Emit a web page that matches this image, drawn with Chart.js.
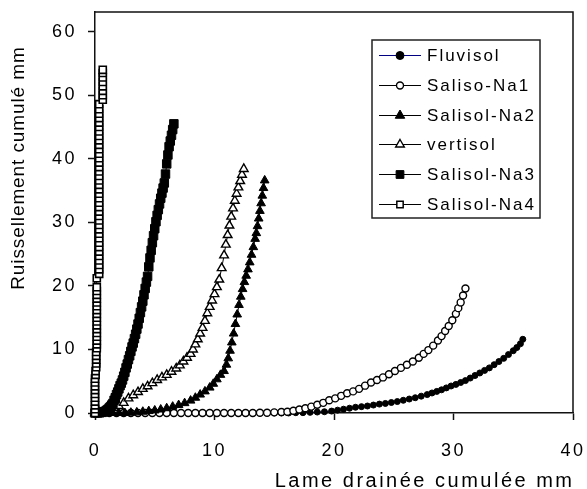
<!DOCTYPE html>
<html><head><meta charset="utf-8">
<script src="https://cdn.jsdelivr.net/npm/chart.js@4/dist/chart.umd.min.js"></script>
<style>html,body{margin:0;padding:0;background:#fff;}#wrap{position:relative;width:587px;height:489px;}</style>
</head><body><div id="wrap"><canvas id="c"></canvas></div>
<script>
const seriesNames = ['Fluvisol', 'Saliso-Na1', 'Salisol-Na2', 'vertisol', 'Salisol-Na3', 'Salisol-Na4'];

const fluvisolX = [0,0.6,1.2,1.8,2.4,3,3.6,4.2,4.8,5.4,6,6.6,7.2,7.8,8.4,9,9.6,10.2,10.8,11.4,12,12.6,13.2,13.8,14.4,15,15.6,16.2,16.8,17.4,18,18.6,19.2,19.8,20.3,20.8,21.3,21.8,22.3,22.8,23.3,23.8,24.3,24.8,25.3,25.8,26.3,26.8,27.3,27.8,28.2,28.6,29,29.4,29.8,30.2,30.6,31,31.4,31.8,32.2,32.6,33,33.4,33.8,34.2,34.6,35,35.3,35.6,35.8];
const fluvisolY = [0,0,0,0,0,0,0,0,0,0,0,0,0,0,0,0,0,0,0,0,0,0,0,0,0,0,0,0,0.05,0.05,0.1,0.15,0.2,0.3,0.45,0.6,0.75,0.9,1.0,1.1,1.25,1.4,1.5,1.65,1.8,2.0,2.2,2.4,2.65,2.9,3.15,3.4,3.65,3.95,4.25,4.5,4.8,5.1,5.5,5.9,6.3,6.7,7.1,7.6,8.1,8.6,9.2,9.8,10.3,10.9,11.6];

const na1X = [0,0.6,1.2,1.8,2.4,3,3.6,4.2,4.8,5.4,6,6.6,7.2,7.8,8.4,9,9.6,10.2,10.8,11.4,12,12.6,13.2,13.8,14.4,15,15.6,16.1,16.6,17.1,17.6,18.1,18.6,19.1,19.6,20.1,20.6,21.1,21.6,22.1,22.6,23.1,23.6,24.1,24.6,25.1,25.6,26.1,26.6,27.1,27.5,27.9,28.3,28.7,29.0,29.3,29.6,29.9,30.2,30.4,30.6,30.8,31.0];
const na1Y = [0,0,0,0,0,0,0,0,0,0,0,0,0,0,0,0,0,0,0,0,0,0,0,0.05,0.05,0.1,0.15,0.2,0.35,0.55,0.75,1.0,1.3,1.6,2.0,2.3,2.7,3.1,3.4,3.8,4.3,4.8,5.2,5.6,6.1,6.6,7.1,7.6,8.1,8.7,9.3,9.9,10.6,11.4,12.1,12.9,13.7,14.6,15.6,16.5,17.4,18.5,19.6];

const na2X = [0,0.5,1.0,1.5,2.0,2.5,3.0,3.5,4.0,4.5,5.0,5.5,6.0,6.5,7.0,7.5,8.0,8.4,8.8,9.2,9.6,9.9,10.2,10.5,10.8,11.0,11.15,11.3,11.45,11.6,11.75,11.9,12.05,12.2,12.35,12.5,12.65,12.8,12.95,13.1,13.25,13.4,13.5,13.6,13.7,13.8,13.9,14.0,14.1,14.2];
const na2Y = [0,0,0,0,0,0,0.05,0.1,0.2,0.3,0.4,0.55,0.75,1.0,1.25,1.55,1.95,2.4,2.9,3.4,4.0,4.6,5.3,6.0,6.6,7.6,8.6,9.8,11.1,12.5,14.0,15.5,17.0,18.3,19.5,20.6,21.6,22.6,23.7,24.9,26.1,27.4,28.3,29.4,30.6,31.8,33.0,34.2,35.4,36.6];

const vertisolX = [0,0.4,0.8,1.2,1.6,2.0,2.4,2.8,3.2,3.6,4.0,4.4,4.8,5.2,5.6,6.0,6.4,6.8,7.1,7.4,7.7,8.0,8.2,8.4,8.6,8.8,9.0,9.2,9.4,9.6,9.8,10.0,10.2,10.4,10.6,10.8,10.95,11.1,11.25,11.4,11.55,11.7,11.85,12.0,12.15,12.3,12.45];
const vertisolY = [0,0.1,0.3,0.5,0.8,1.1,1.6,2.3,2.8,3.3,3.8,4.2,4.7,5.2,5.6,6.0,6.5,7.0,7.5,8.1,8.7,9.3,10.0,10.8,11.6,12.5,13.4,14.5,15.7,16.7,17.7,18.7,19.8,21.0,22.8,24.8,26.5,28.0,29.5,30.9,32.2,33.4,34.5,35.5,36.5,37.5,38.4];

const na3X = [0,0.2,0.4,0.6,0.8,0.9,1.0,1.1,1.2,1.3,1.4,1.5,1.6,1.7,1.8,1.9,2.0,2.1,2.2,2.3,2.4,2.5,2.6,2.7,2.8,2.9,3.0,3.1,3.2,3.3,3.4,3.5,3.6,3.7,3.8,3.9,4.0,4.1,4.2,4.3,4.4,4.5,4.6,4.7,4.8,4.9,5.0,5.1,5.2,5.3,5.4,5.5,5.6,5.7,5.8,5.9,6.0,6.1,6.2,6.3,6.4,6.5,6.6];
const na3Y = [0,0,0.05,0.1,0.2,0.3,0.45,0.6,0.8,1.0,1.25,1.5,2.0,2.4,2.9,3.3,3.8,4.3,4.7,5.2,5.8,6.4,7.1,7.7,8.4,9.0,9.7,10.4,11.0,11.7,12.4,13.2,14.0,14.9,15.8,16.7,17.6,18.6,19.6,20.6,21.5,23.0,24.4,25.6,26.8,27.9,29.0,30.1,31.1,32.0,32.9,33.8,34.6,35.4,36.2,37.6,39.2,40.6,41.9,42.8,43.7,44.6,45.5];

const na4X = [0,0,0,0,0,0,0,0,0,0,0.05,0.05,0.1,0.1,0.1,0.1,0.1,0.15,0.15,0.15,0.15,0.15,0.15,0.15,0.15,0.15,0.15,0.15,0.15,0.15,0.15,0.15,0.15,0.15,0.15,0.35,0.35,0.35,0.35,0.35,0.35,0.35,0.35,0.35,0.35,0.35,0.35,0.35,0.35,0.35,0.35,0.35,0.35,0.35,0.35,0.35,0.35,0.35,0.35,0.35,0.35,0.35,0.35,0.35,0.35,0.35,0.35,0.35,0.35,0.35,0.35,0.35,0.35,0.35,0.65,0.65,0.65,0.65,0.65,0.65,0.65,0.65,0.65];
const na4Y = [0,0.6,1.2,1.8,2.4,3.0,3.6,4.2,4.8,5.4,6.0,6.6,7.2,7.8,8.4,9.0,9.6,10.2,10.8,11.4,12.0,12.6,13.2,13.8,14.4,15.0,15.6,16.2,16.8,17.4,18.0,18.6,19.2,19.8,21.2,21.9,22.6,23.3,24.0,24.7,25.4,26.1,26.8,27.5,28.2,28.9,29.6,30.3,31.0,31.7,32.4,33.1,33.8,34.5,35.2,35.9,36.6,37.3,38.0,38.7,39.4,40.1,40.8,41.5,42.2,42.9,43.6,44.3,45.0,45.7,46.4,47.1,47.8,48.6,49.3,50.0,50.7,51.4,52.1,52.8,53.5,54.0];

const xTickValues = [0,10,20,30,40];
const yTickValues = [0,10,20,30,40,50,60];
const xTitle = 'Lame drainée cumulée mm';
const yTitle = 'Ruissellement cumulé mm';

function pts(xs, ys){ return xs.map((x,i)=>({x:x, y:ys[i]})); }

const styleList = [
  {pointStyle:'circle',   radius:3,   bg:'#000', border:'#000', line:'#000080', bw:1},
  {pointStyle:'circle',   radius:3.5, bg:'#fff', border:'#000', line:'#000', bw:1.4},
  {pointStyle:'triangle', radius:5,   bg:'#000', border:'#000', line:'#000', bw:1},
  {pointStyle:'triangle', radius:5,   bg:'#fff', border:'#000', line:'#000', bw:1.4},
  {pointStyle:'rect',     radius:6,   bg:'#000', border:'#000', line:'#000', bw:1},
  {pointStyle:'rect',     radius:5,   bg:'#fff', border:'#000', line:'#000', bw:1.6}
];
const dataPairs = [[fluvisolX,fluvisolY],[na1X,na1Y],[na2X,na2Y],[vertisolX,vertisolY],[na3X,na3Y],[na4X,na4Y]];

const datasets = seriesNames.map((name,i)=>({
  label: name,
  data: pts(dataPairs[i][0], dataPairs[i][1]),
  showLine: true,
  borderColor: styleList[i].line,
  borderWidth: 1,
  pointStyle: styleList[i].pointStyle,
  pointRadius: styleList[i].radius,
  pointBackgroundColor: styleList[i].bg,
  pointBorderColor: styleList[i].border,
  pointBorderWidth: styleList[i].bw,
  pointHoverRadius: styleList[i].radius,
  clip: false,
  order: 5 - i
}));

function spacedText(ctx, text, x, y, spacing, align){
  const chars = Array.from(text);
  const ws = chars.map(ch => ctx.measureText(ch).width);
  let w = ws.reduce((a,b)=>a+b,0) + spacing*(chars.length-1);
  let sx = align==='right' ? x-w : (align==='center' ? x-w/2 : x);
  ctx.textAlign = 'left';
  chars.forEach((ch,i)=>{ ctx.fillText(ch, sx, y); sx += ws[i] + spacing; });
  return w;
}

function drawMarker(ctx, st, x, y){
  ctx.save();
  ctx.fillStyle = st.bg; ctx.strokeStyle = st.border; ctx.lineWidth = st.bw;
  if (Chart.helpers && Chart.helpers.drawPoint) {
    Chart.helpers.drawPoint(ctx, {pointStyle: st.pointStyle, radius: st.radius, rotation: 0, borderWidth: st.bw}, x, y);
  } else {
    ctx.beginPath(); ctx.arc(x,y,st.radius,0,Math.PI*2); ctx.fill(); ctx.stroke();
  }
  ctx.restore();
}

const legendMarkers = [
  {pointStyle:'circle',   radius:4,   bg:'#000', border:'#000', bw:1},
  {pointStyle:'circle',   radius:3.5, bg:'#fff', border:'#000', bw:1.4},
  {pointStyle:'triangle', radius:5.5, bg:'#000', border:'#000', bw:1},
  {pointStyle:'triangle', radius:5,   bg:'#fff', border:'#000', bw:1.4},
  {pointStyle:'rect',     radius:5.5, bg:'#000', border:'#000', bw:1},
  {pointStyle:'rect',     radius:4.5, bg:'#fff', border:'#000', bw:1.5}
];

const decorPlugin = {
  id: 'decor',
  beforeDraw(chart){ try { chart.ctx.letterSpacing = '2.5px'; } catch(e){} },
  afterDraw(chart){
    const ctx = chart.ctx;
    const a = chart.chartArea;
    ctx.save();
    try { ctx.letterSpacing = '0px'; } catch(e){}
    ctx.strokeStyle = '#111'; ctx.lineWidth = 1.5;
    ctx.beginPath();
    ctx.moveTo(a.left, a.top); ctx.lineTo(a.right, a.top); ctx.lineTo(a.right, a.bottom);
    ctx.stroke();
    ctx.fillStyle = '#000';
    ctx.textBaseline = 'alphabetic';
    ctx.font = '20px "Liberation Sans", Arial, sans-serif';
    spacedText(ctx, xTitle, 572, 487, 2.5, 'right');
    ctx.font = '19px "Liberation Sans", Arial, sans-serif';
    ctx.save();
    ctx.translate(24, 168.5);
    ctx.rotate(-Math.PI/2);
    spacedText(ctx, yTitle, 0, 0, 0.9, 'center');
    ctx.restore();
    const lx = 372, ly = 40, lw = 168, lh = 178;
    ctx.fillStyle = '#fff';
    ctx.fillRect(lx, ly, lw, lh);
    ctx.strokeStyle = '#222'; ctx.lineWidth = 1.5;
    ctx.strokeRect(lx, ly, lw, lh);
    ctx.font = '17px "Liberation Sans", Arial, sans-serif';
    ctx.textBaseline = 'middle';
    seriesNames.forEach((name,i)=>{
      const y = Math.round(55 + i*29.8) + 0.5;
      ctx.strokeStyle = styleList[i].line; ctx.lineWidth = 1;
      ctx.beginPath(); ctx.moveTo(379, y); ctx.lineTo(421, y); ctx.stroke();
      drawMarker(ctx, legendMarkers[i], 400, y);
      ctx.fillStyle = '#000';
      spacedText(ctx, name, 427, y+1, 2, 'left');
    });
    ctx.restore();
    try { ctx.letterSpacing = '0px'; } catch(e){}
  }
};

new Chart(document.getElementById('c'), {
  type: 'scatter',
  data: { datasets: datasets },
  options: {
    responsive: true,
    maintainAspectRatio: false,
    animation: false,
    events: [],
    layout: { padding: { top: 12, right: 14, left: 0, bottom: 0 } },
    plugins: { legend: { display: false }, tooltip: { enabled: false } },
    scales: {
      x: {
        type: 'linear', min: 0, max: 40,
        afterFit(scale){ scale.height = 76; scale.paddingLeft = 0; scale.paddingRight = 0; },
        afterBuildTicks(scale){ scale.ticks = xTickValues.map(v=>({value:v})); },
        ticks: { stepSize: 10, includeBounds: false, color: '#000', padding: 20, maxRotation: 0,
                 font: { family: '"Liberation Sans", Arial, sans-serif', size: 18 } },
        grid: { drawOnChartArea: false, drawTicks: true, tickLength: 7, tickColor: '#111', tickWidth: 1.5 },
        border: { display: true, color: '#111', width: 1.5 }
      },
      y: {
        type: 'linear', min: 0, max: 63.1,
        afterFit(scale){ scale.width = 95; scale.paddingTop = 0; scale.paddingBottom = 0; },
        afterBuildTicks(scale){ scale.ticks = yTickValues.map(v=>({value:v})); },
        ticks: { stepSize: 10, includeBounds: false, color: '#000', padding: 11,
                 font: { family: '"Liberation Sans", Arial, sans-serif', size: 18 } },
        grid: { drawOnChartArea: false, drawTicks: true, tickLength: 7, tickColor: '#111', tickWidth: 1.5 },
        border: { display: true, color: '#111', width: 1.5 }
      }
    }
  },
  plugins: [decorPlugin]
});
</script>
</body></html>
